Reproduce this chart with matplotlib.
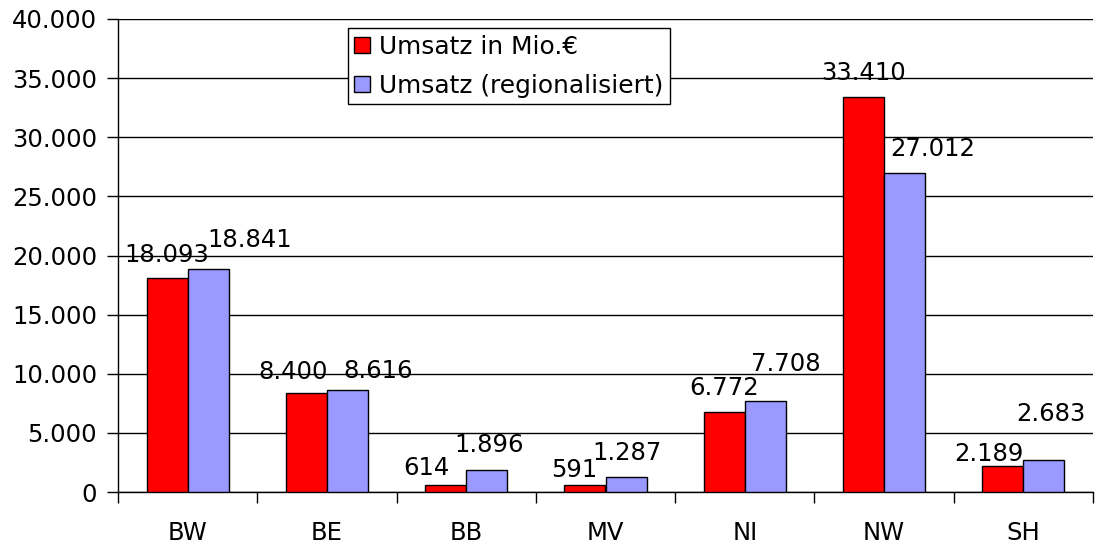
import numpy as np
import matplotlib.pyplot as plt
from matplotlib.ticker import FuncFormatter

plt.rcParams['font.family'] = ['DejaVu Sans']

# Data
regions = ['BW', 'BE', 'BB', 'MV', 'NI', 'NW', 'SH']
umsatz = [18093, 8400, 614, 591, 6772, 33410, 2189]
umsatz_reg = [18841, 8616, 1896, 1287, 7708, 27012, 2683]

# label nudges in pixels (dx, gap above bar), as placed in the original
shift_red = [(0, 16), (-13, 14), (-19, 10), (-11, 8), (0, 17), (0, 17), (-14, 5)]
shift_blue = [(41, 22), (31, 12), (2, 18), (1, 17), (20, 30), (28, 17), (7, 39)]


def de_fmt(v):
    return f'{int(round(v)):,}'.replace(',', '.')


fs = 17.5
fig = plt.figure(figsize=(11.01, 5.49), dpi=100)
ax = fig.add_axes([118 / 1101, 1 - 492 / 549, 975 / 1101, 473 / 549])

x = np.arange(len(regions))
w = 0.295
b1 = ax.bar(x - w / 2, umsatz, w, color='#ff0000', edgecolor='black', linewidth=1,
            label='Umsatz in Mio.€', zorder=3)
b2 = ax.bar(x + w / 2, umsatz_reg, w, color='#9999ff', edgecolor='black', linewidth=1,
            label='Umsatz (regionalisiert)', zorder=3)

for bars, vals, shifts in ((b1, umsatz, shift_red), (b2, umsatz_reg, shift_blue)):
    for r, v, (dx, dy) in zip(bars, vals, shifts):
        ax.annotate(de_fmt(v), (r.get_x() + r.get_width() / 2, v),
                    xytext=(dx, dy), textcoords='offset pixels',
                    ha='center', va='baseline', fontsize=fs, zorder=4)

ax.set_ylim(0, 40000)
ax.set_yticks(np.arange(0, 40001, 5000))
ax.yaxis.set_major_formatter(FuncFormatter(lambda v, p: de_fmt(v)))
ax.set_xlim(-0.5, len(regions) - 0.5)
ax.set_xticks(x)
ax.set_xticklabels(regions)
ax.set_xticks(np.arange(-0.5, len(regions)), minor=True)
ax.tick_params(axis='x', which='major', length=0, labelsize=fs, pad=21)
ax.tick_params(axis='x', which='minor', length=8, width=1)
ax.tick_params(axis='y', length=8, width=1, labelsize=fs, pad=7)
ax.yaxis.grid(True, color='black', linewidth=1, zorder=0)
ax.set_axisbelow(True)
for s in ('top', 'right'):
    ax.spines[s].set_visible(False)
ax.spines['left'].set_linewidth(1)
ax.spines['bottom'].set_linewidth(1)

leg = ax.legend(loc='upper left', bbox_to_anchor=(0.236, 0.98), fontsize=17.9,
                frameon=True, fancybox=False, edgecolor='black', framealpha=1,
                handlelength=0.65, handleheight=0.65, handletextpad=0.35,
                borderpad=0.25, labelspacing=0.6, borderaxespad=0)
leg.get_frame().set_linewidth(1)

fig.savefig('out.png', dpi=100)
